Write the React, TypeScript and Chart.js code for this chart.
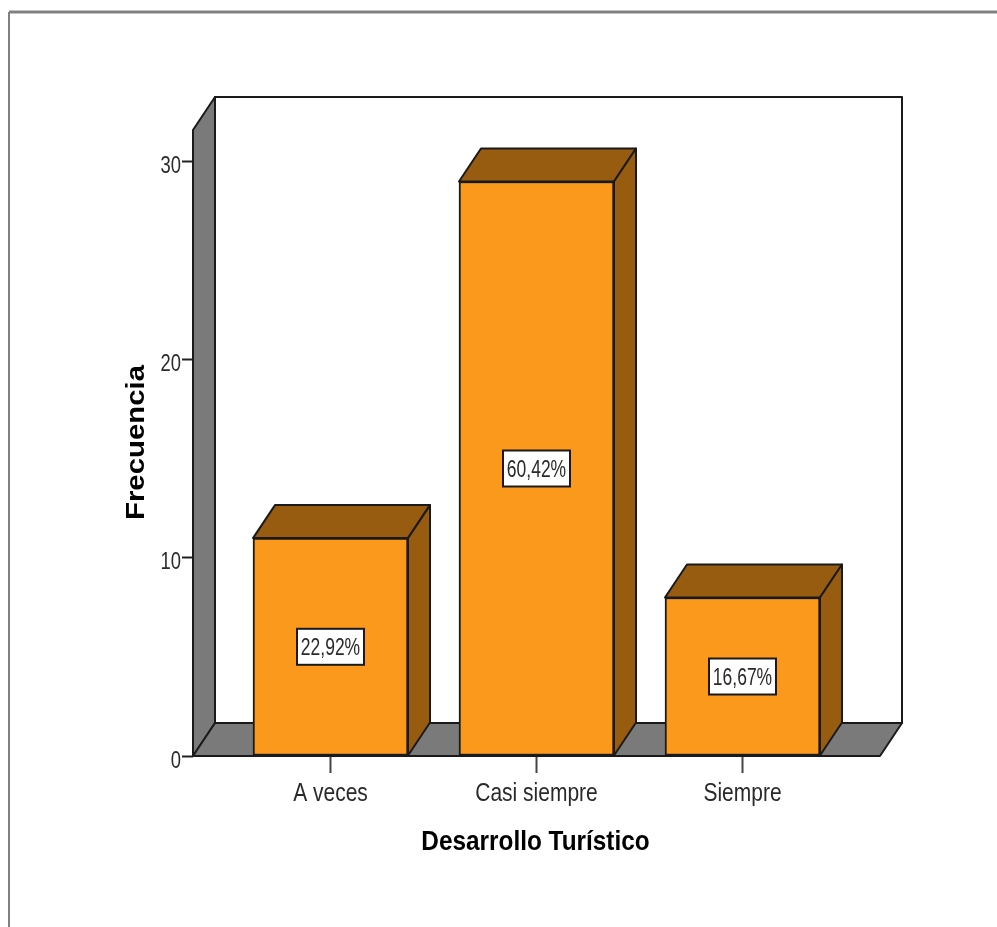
import React, { useEffect, useRef } from "react";
import { Chart, registerables } from "chart.js";

Chart.register(...registerables);

const categories = ["A veces", "Casi siempre", "Siempre"];
const frequencies = [11, 29, 8];
const percentLabels = ["22,92%", "60,42%", "16,67%"];
const yTicks = [0, 10, 20, 30];
const xTitle = "Desarrollo Turístico";
const yTitle = "Frecuencia";

const WIDTH = 997;
const HEIGHT = 927;
const DX = 22;
const DY = 33;
const INK = "#1a1a1a";
const TEXT = "#2a2a2a";
const ORANGE = "#fb991d";
const BROWN = "#985c11";
const WALL = "#7a7a7a";
const FRAME = "#808080";
const SANS = '"Liberation Sans", Arial, sans-serif';

function poly(ctx: CanvasRenderingContext2D, pts: number[][], fill: string) {
  ctx.beginPath();
  pts.forEach(([x, y], i) => (i ? ctx.lineTo(x, y) : ctx.moveTo(x, y)));
  ctx.closePath();
  ctx.fillStyle = fill;
  ctx.fill();
  ctx.lineWidth = 2;
  ctx.strokeStyle = INK;
  ctx.lineJoin = "round";
  ctx.stroke();
}

// The reference is a stretched raster: its text is squeezed horizontally.
function squeezed(
  ctx: CanvasRenderingContext2D,
  text: string,
  x: number,
  y: number,
  font: string,
  scaleX: number,
  align: CanvasTextAlign,
  color: string,
  rotate = 0
) {
  ctx.save();
  ctx.translate(x, y);
  if (rotate) ctx.rotate(rotate);
  ctx.scale(scaleX, 1);
  ctx.font = font;
  ctx.textAlign = align;
  ctx.textBaseline = "alphabetic";
  ctx.fillStyle = color;
  ctx.fillText(text, 0, 0);
  ctx.restore();
}

const box3d = {
  id: "box3d",
  beforeDatasetsDraw(chart: any) {
    const { ctx, chartArea: a } = chart;
    ctx.save();
    // page frame
    ctx.strokeStyle = FRAME;
    ctx.lineWidth = 3;
    ctx.beginPath();
    ctx.moveTo(WIDTH, 12);
    ctx.lineTo(9, 12);
    ctx.stroke();
    ctx.lineWidth = 2;
    ctx.beginPath();
    ctx.moveTo(9, 12);
    ctx.lineTo(9, HEIGHT);
    ctx.stroke();
    // walls and floor
    poly(ctx, [[a.left + DX, a.top - DY], [a.right + DX, a.top - DY], [a.right + DX, a.bottom - DY], [a.left + DX, a.bottom - DY]], "#ffffff");
    poly(ctx, [[a.left, a.top], [a.left + DX, a.top - DY], [a.left + DX, a.bottom - DY], [a.left, a.bottom]], WALL);
    poly(ctx, [[a.left, a.bottom], [a.left + DX, a.bottom - DY], [a.right + DX, a.bottom - DY], [a.right, a.bottom]], WALL);
    // bar top and side faces
    chart.getDatasetMeta(0).data.forEach((bar: any) => {
      const l = bar.x - bar.width / 2;
      const r = bar.x + bar.width / 2;
      const t = bar.y;
      const b = bar.base;
      poly(ctx, [[l, t], [l + DX, t - DY], [r + DX, t - DY], [r, t]], BROWN);
      poly(ctx, [[r, t], [r + DX, t - DY], [r + DX, b - DY], [r, b]], BROWN);
    });
    ctx.restore();
  },
  afterDatasetsDraw(chart: any) {
    const { ctx, chartArea: a, scales } = chart;
    ctx.save();
    // percentage boxes
    chart.getDatasetMeta(0).data.forEach((bar: any, i: number) => {
      const cy = (bar.y + bar.base) / 2;
      ctx.fillStyle = "#ffffff";
      ctx.strokeStyle = INK;
      ctx.lineWidth = 2;
      ctx.fillRect(bar.x - 33.5, cy - 18, 67, 36);
      ctx.strokeRect(bar.x - 33.5, cy - 18, 67, 36);
      squeezed(ctx, percentLabels[i], bar.x, cy + 8, `23px ${SANS}`, 0.76, "center", TEXT);
    });
    // tick labels, placed by the library's scales
    scales.y.ticks.forEach((t: any) => {
      squeezed(ctx, String(t.label), 181, scales.y.getPixelForValue(t.value) + 11.5, `23px ${SANS}`, 0.8, "right", TEXT);
    });
    scales.x.ticks.forEach((t: any) => {
      squeezed(ctx, String(t.label), scales.x.getPixelForValue(t.value), 800.5, `25px ${SANS}`, 0.84, "center", TEXT);
    });
    // axis titles
    squeezed(ctx, xTitle, (a.left + a.right) / 2 - 1, 850, `bold 28px ${SANS}`, 0.87, "center", "#000000");
    squeezed(ctx, yTitle, 143.5, 442.5, `bold 26px ${SANS}`, 1.13, "center", "#000000", -Math.PI / 2);
    ctx.restore();
  },
};

export default function App() {
  const ref = useRef<HTMLCanvasElement>(null);
  useEffect(() => {
    const chart = new Chart(ref.current as HTMLCanvasElement, {
      type: "bar",
      data: {
        datasets: [
          {
            data: frequencies.map((v, i) => ({ x: i, y: v })),
            backgroundColor: ORANGE,
            borderColor: INK,
            borderWidth: 2,
            borderSkipped: false,
            barThickness: 155,
          },
        ],
      },
      options: {
        animation: false,
        responsive: false,
        layout: { padding: { top: 130, right: 117, left: 0, bottom: 0 } },
        plugins: { legend: { display: false }, tooltip: { enabled: false }, title: { display: false } },
        scales: {
          x: {
            type: "linear",
            offset: false,
            min: -0.6675,
            max: 2.6675,
            afterBuildTicks: (s: any) => {
              s.ticks = categories.map((_, i) => ({ value: i }));
            },
            afterFit: (s: any) => {
              s.height = 171;
            },
            border: { display: false },
            grid: { offset: false, drawOnChartArea: false, drawTicks: true, tickLength: 17, tickWidth: 2, tickColor: "#444444" },
            ticks: {
              display: false,
              autoSkip: false,
              maxRotation: 0,
              callback: (v: any) => categories[v],
            },
          },
          y: {
            type: "linear",
            min: 0,
            max: 31.6,
            afterBuildTicks: (s: any) => {
              s.ticks = yTicks.map((value) => ({ value }));
            },
            afterFit: (s: any) => {
              s.width = 193;
            },
            border: { display: false },
            grid: { drawOnChartArea: false, drawTicks: true, tickLength: 11, tickWidth: 2, tickColor: "#222222" },
            ticks: { display: false },
          },
        },
      },
      plugins: [box3d],
    } as any);
    return () => chart.destroy();
  }, []);
  return (
    <canvas
      ref={ref}
      width={WIDTH}
      height={HEIGHT}
      style={{ position: "absolute", left: 0, top: 0, width: WIDTH, height: HEIGHT, display: "block" }}
    />
  );
}
